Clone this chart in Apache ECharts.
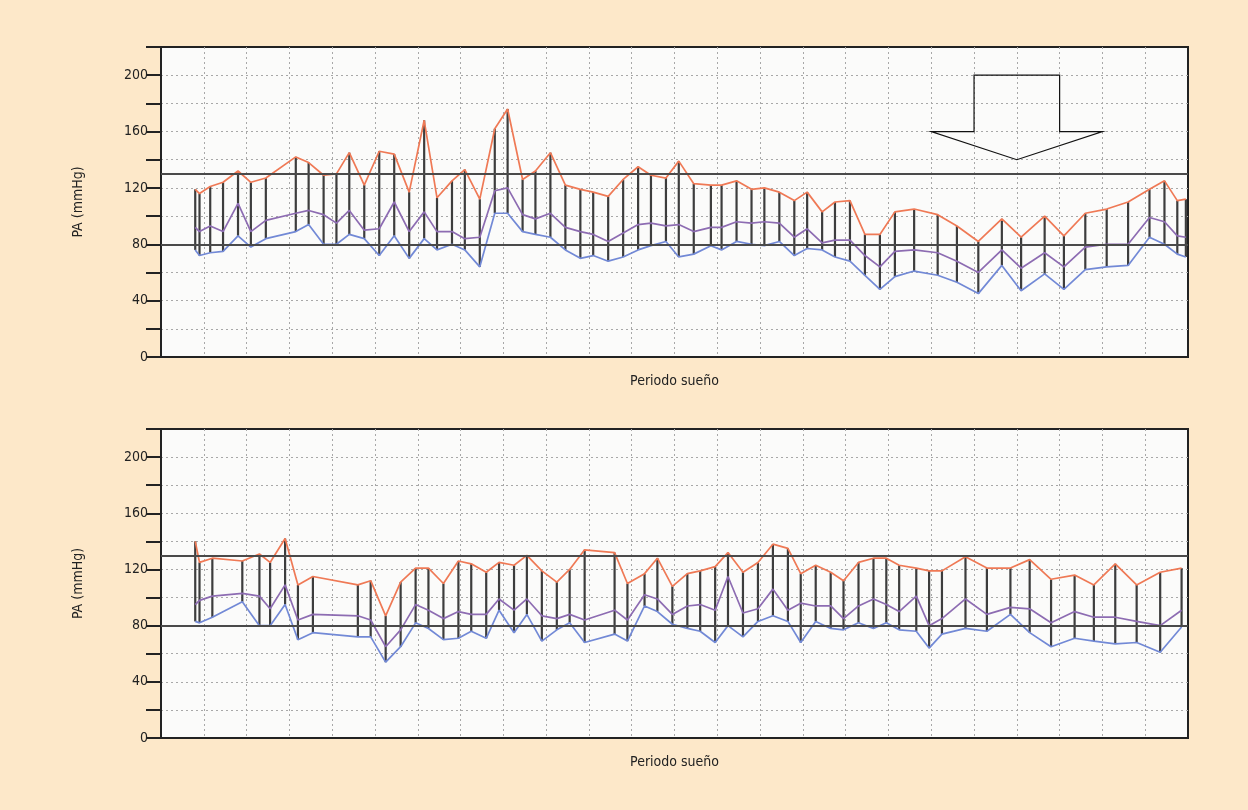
<!DOCTYPE html>
<html>
<head>
<meta charset="utf-8">
<script src="https://cdn.jsdelivr.net/npm/echarts@6/dist/echarts.min.js"></script>
<style>
  html, body { margin: 0; padding: 0; background: #fde8c9; }
  #chart { width: 1248px; height: 810px; }
</style>
</head>
<body>
<div id="chart"></div>
<script>
// ---- Data (minutes into the sleep period, mmHg) ----
const timesTop = [16, 18, 23, 29, 36, 42, 49, 63, 69, 76, 82, 88, 95, 102, 109, 116, 123, 129, 136, 142,
  149, 156, 162, 169, 175, 182, 189, 196, 202, 209, 216, 223, 229, 236, 242, 249, 257, 262, 269, 276,
  282, 289, 296, 302, 309, 315, 322, 329, 336, 343, 352, 363, 372, 382, 393, 402, 413, 422, 432, 442,
  452, 462, 469, 475, 479];
const systolicTop = [119, 116, 121, 124, 132, 124, 127, 142, 138, 129, 130, 145, 122, 146, 144, 117, 168, 113, 125, 133,
  112, 162, 176, 126, 132, 145, 122, 119, 117, 114, 126, 135, 129, 127, 139, 123, 122, 122, 125, 119,
  120, 117, 111, 117, 103, 110, 111, 87, 87, 103, 105, 101, 93, 82, 98, 85, 100, 86, 102, 105,
  110, 119, 125, 111, 112];
const meanTop = [92, 89, 93, 89, 109, 89, 97, 102, 104, 101, 95, 104, 90, 91, 110, 89, 103, 89, 89, 84,
  85, 118, 120, 101, 98, 102, 92, 89, 87, 82, 88, 94, 95, 93, 94, 89, 92, 92, 96, 95,
  96, 95, 85, 91, 81, 83, 83, 72, 64, 75, 76, 74, 68, 60, 76, 63, 74, 64, 78, 80,
  80, 99, 96, 86, 85];
const diastolicTop = [76, 72, 74, 75, 86, 78, 84, 89, 94, 80, 80, 87, 84, 72, 86, 70, 84, 76, 80, 76,
  64, 102, 102, 89, 87, 85, 76, 70, 72, 68, 71, 76, 79, 82, 71, 73, 79, 76, 82, 80,
  79, 82, 72, 77, 76, 71, 68, 58, 48, 57, 61, 58, 53, 45, 65, 47, 59, 48, 62, 64,
  65, 85, 80, 73, 71];

const timesBottom = [16, 18, 24, 38, 46, 51, 58, 64, 71, 92, 98, 105, 112, 119, 125, 132, 139, 145, 152, 158,
  165, 171, 178, 185, 191, 198, 212, 218, 226, 232, 239, 246, 252, 259, 265, 272, 279, 286, 293, 299,
  306, 313, 319, 326, 333, 339, 345, 353, 359, 365, 376, 386, 397, 406, 416, 427, 436, 446, 456, 467, 477];
const systolicBottom = [140, 125, 128, 126, 131, 125, 142, 109, 115, 109, 112, 87, 111, 121, 121, 110, 126, 124, 118, 125,
  123, 130, 119, 111, 120, 134, 132, 110, 117, 128, 108, 117, 119, 122, 132, 118, 125, 138, 135, 117,
  123, 118, 112, 125, 128, 128, 123, 121, 119, 119, 129, 121, 121, 127, 113, 116, 109, 124, 109, 118, 121];
const meanBottom = [95, 98, 101, 103, 101, 92, 109, 84, 88, 87, 84, 65, 77, 95, 91, 85, 90, 88, 88, 99,
  91, 99, 87, 85, 88, 84, 91, 84, 102, 99, 88, 94, 95, 91, 115, 89, 92, 106, 91, 96,
  94, 94, 85, 94, 99, 95, 90, 101, 80, 85, 99, 88, 93, 92, 82, 90, 86, 86, 83, 80, 91];
const diastolicBottom = [83, 82, 86, 97, 80, 80, 95, 70, 75, 72, 72, 54, 65, 82, 78, 70, 71, 76, 71, 91,
  75, 88, 69, 77, 82, 68, 74, 69, 94, 90, 81, 78, 76, 68, 80, 72, 83, 87, 83, 68,
  83, 78, 77, 82, 78, 82, 77, 76, 64, 74, 78, 76, 88, 75, 65, 71, 69, 67, 68, 61, 79];

const yTickLabels = [0, 40, 80, 120, 160, 200];
const thresholds = [130, 80];
const yAxisName = 'PA (mmHg)';
const xAxisName = 'Periodo sueño';

// ---- Build chart ----
const FONT = '"Liberation Sans Narrow", "DejaVu Sans Condensed", "Noto Sans", sans-serif';
const C_SYS = '#ef7955', C_MEAN = '#8d6cb2', C_DIA = '#7289d6';

function pairs(ts, vs) { return ts.map((t, i) => [t, vs[i]]); }
function rangeData(ts, lo, hi) { return ts.map((t, i) => [t, lo[i], hi[i]]); }

const grids = [
  { left: 161, right: 60, top: 47, height: 310 },
  { left: 161, right: 60, top: 429, height: 309 }
];

const gridLineStyle = { color: '#a8a8a8', width: 1, type: [2, 3] };

function xAxisFor(idx) {
  return {
    type: 'value', gridIndex: idx, min: 0, max: 480, interval: 20,
    name: xAxisName, nameLocation: 'middle', nameGap: 17,
    nameTextStyle: { fontFamily: FONT, fontSize: 14, color: '#222' },
    axisLine: { show: true, lineStyle: { color: '#222', width: 2 } },
    axisTick: { show: false }, axisLabel: { show: false },
    splitLine: { show: true, showMinLine: false, showMaxLine: false, lineStyle: gridLineStyle }
  };
}
function yAxisFor(idx) {
  return {
    type: 'value', gridIndex: idx, min: 0, max: 220, interval: 20,
    name: yAxisName, nameLocation: 'middle', nameGap: 76, nameRotate: 90,
    nameTextStyle: { fontFamily: FONT, fontSize: 14, color: '#222' },
    axisLine: { show: true, lineStyle: { color: '#222', width: 2 } },
    axisTick: { show: true, length: 15, lineStyle: { color: '#222', width: 2 } },
    axisLabel: {
      margin: 13, fontFamily: FONT, fontSize: 14, color: '#222',
      formatter: v => yTickLabels.includes(v) ? String(v) : ''
    },
    splitLine: { show: true, showMinLine: false, showMaxLine: false, lineStyle: gridLineStyle }
  };
}

function barSeries(idx, ts, lo, hi) {
  return {
    type: 'custom', xAxisIndex: idx, yAxisIndex: idx, z: 3,
    data: rangeData(ts, lo, hi), encode: { x: 0, y: [1, 2] },
    renderItem: (params, api) => {
      const a = api.coord([api.value(0), api.value(1)]);
      const b = api.coord([api.value(0), api.value(2)]);
      return { type: 'line', shape: { x1: a[0], y1: a[1], x2: b[0], y2: b[1] },
        style: { stroke: '#3d3d3d', lineWidth: 2.2 } };
    }
  };
}
function lineSeries(idx, ts, vs, color, extra) {
  return Object.assign({
    type: 'line', xAxisIndex: idx, yAxisIndex: idx, z: 4,
    data: pairs(ts, vs), showSymbol: false, symbol: 'none',
    lineStyle: { color: color, width: 1.7 }, itemStyle: { color: color }
  }, extra || {});
}
function refLines() {
  return {
    silent: true, symbol: 'none', label: { show: false },
    lineStyle: { color: '#4a4a4a', width: 2, type: 'solid' },
    data: thresholds.map(v => ({ yAxis: v }))
  };
}

const arrowSeries = {
  type: 'custom', xAxisIndex: 0, yAxisIndex: 0, z: 5,
  data: [[400, 170]],
  renderItem: (params, api) => {
    const outline = [[380, 200], [420, 200], [420, 160], [440, 160], [400, 140], [360, 160], [380, 160]];
    return { type: 'polygon', shape: { points: outline.map(p => api.coord(p)) },
      style: { fill: 'none', stroke: '#111', lineWidth: 1.2 } };
  }
};

const option = {
  backgroundColor: '#fde8c9',
  animation: false,
  grid: grids.map(g => Object.assign({ show: true, backgroundColor: '#fbfbfa', borderColor: '#222', borderWidth: 2 }, g)),
  xAxis: [xAxisFor(0), xAxisFor(1)],
  yAxis: [yAxisFor(0), yAxisFor(1)],
  series: [
    barSeries(0, timesTop, diastolicTop, systolicTop),
    lineSeries(0, timesTop, diastolicTop, C_DIA, { markLine: refLines() }),
    lineSeries(0, timesTop, meanTop, C_MEAN),
    lineSeries(0, timesTop, systolicTop, C_SYS),
    arrowSeries,
    barSeries(1, timesBottom, diastolicBottom, systolicBottom),
    lineSeries(1, timesBottom, diastolicBottom, C_DIA, { markLine: refLines() }),
    lineSeries(1, timesBottom, meanBottom, C_MEAN),
    lineSeries(1, timesBottom, systolicBottom, C_SYS)
  ]
};

const chart = echarts.init(document.getElementById('chart'), null, { renderer: 'canvas' });
chart.setOption(option);
</script>
</body>
</html>
